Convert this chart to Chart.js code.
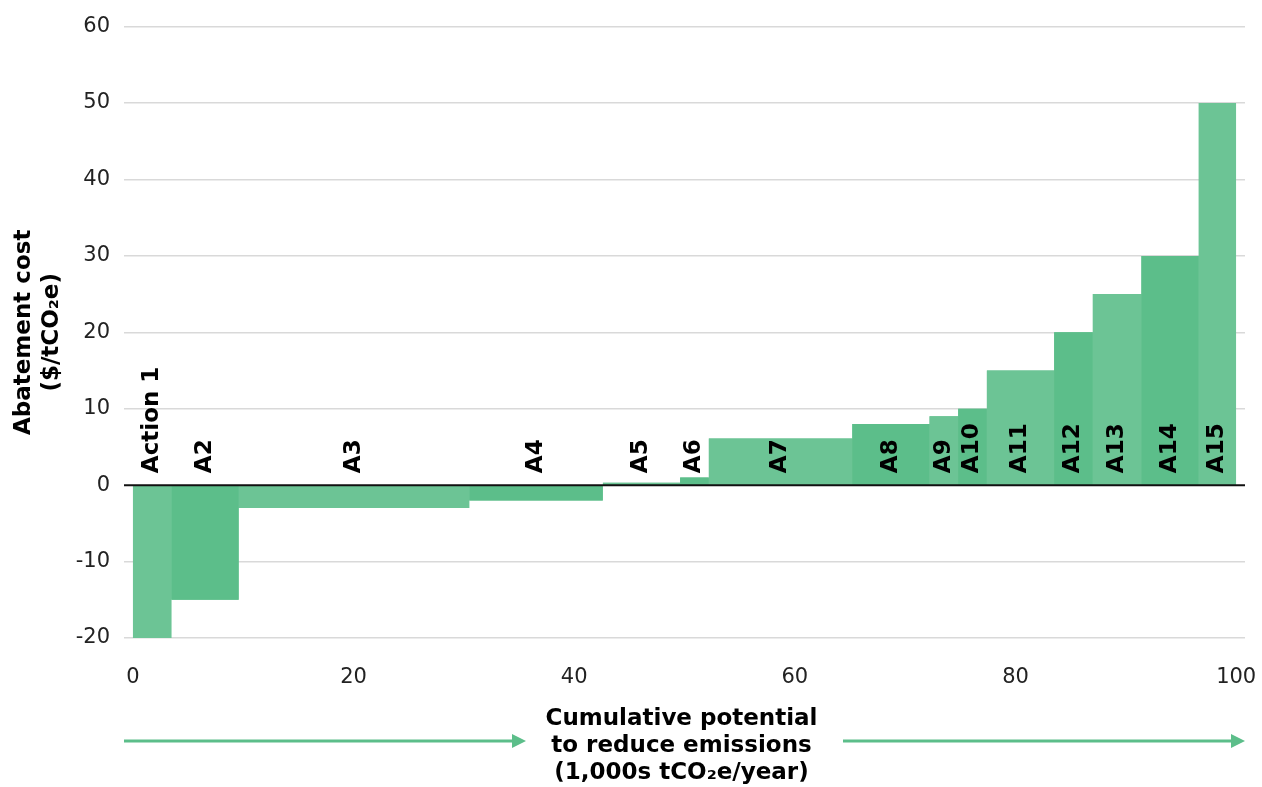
<!DOCTYPE html>
<html>
<head>
<meta charset="utf-8">
<script src="https://cdn.jsdelivr.net/npm/chart.js@4.4.1/dist/chart.umd.min.js"></script>
<style>
    html, body { margin: 0; padding: 0; background: #ffffff; }
    #wrap { width: 1262px; height: 787px; }
</style>
</head>
<body>
<div id="wrap"><canvas id="macc"></canvas></div>
<script>
const actions = ['Action 1', 'A2', 'A3', 'A4', 'A5', 'A6', 'A7', 'A8', 'A9', 'A10', 'A11', 'A12', 'A13', 'A14', 'A15'];
// reduction potential of each action (1,000s tCO2e/year) -> bar widths
const potentials = [3.5, 6.1, 20.9, 12.1, 7.0, 2.6, 13.0, 7.0, 2.6, 2.6, 6.1, 3.5, 4.4, 5.2, 3.4];
// abatement cost ($/tCO2e) -> bar heights
const costs = [-20, -15, -3, -2, 0.3, 1, 6.1, 8, 9, 10, 15, 20, 25, 30, 50];
const xTicks = [0, 20, 40, 60, 80, 100];

const LIGHT = '#6cc495';
const DARK = '#5cbe8a';
const FONT = '"DejaVu Sans", sans-serif';

// each action becomes a flat line from its start to its end, filled down to zero
let runningTotal = 0;
const steps = [];
const datasets = actions.map((name, i) => {
    const start = runningTotal;
    runningTotal += potentials[i];
    const pts = [{ x: start, y: costs[i] }, { x: runningTotal, y: costs[i] }];
    steps.push(...pts);
    return {
        label: name,
        data: pts,
        fill: 'origin',
        backgroundColor: i % 2 === 0 ? LIGHT : DARK,
        borderColor: 'rgba(0,0,0,0)',
        borderWidth: 0,
        pointRadius: 0,
        tension: 0,
        order: 0
    };
});

// one continuous staircase underneath, so the bar edges don't leave hairline gaps
const underlay = {
    label: '',
    data: steps,
    fill: 'origin',
    backgroundColor: LIGHT,
    borderColor: 'rgba(0,0,0,0)',
    borderWidth: 0,
    pointRadius: 0,
    tension: 0,
    order: 1
};

const drawLabels = {
    id: 'drawLabels',
    afterDatasetsDraw(chart) {
        const { ctx, chartArea, scales: { x, y } } = chart;
        const zeroY = y.getPixelForValue(0);

        // zero line sits above the bars
        ctx.save();
        ctx.strokeStyle = '#111';
        ctx.lineWidth = 2;
        ctx.beginPath();
        ctx.moveTo(chartArea.left, zeroY);
        ctx.lineTo(chartArea.right, zeroY);
        ctx.stroke();

        // vertical action names just above zero
        ctx.fillStyle = '#000';
        ctx.font = 'bold 23px ' + FONT;
        ctx.textAlign = 'left';
        ctx.textBaseline = 'middle';
        datasets.forEach(ds => {
            const mid = (ds.data[0].x + ds.data[1].x) / 2;
            ctx.save();
            ctx.translate(x.getPixelForValue(mid), zeroY - 12);
            ctx.rotate(-Math.PI / 2);
            ctx.fillText(ds.label, 0, 0);
            ctx.restore();
        });
        ctx.restore();
    },
    afterDraw(chart) {
        const { ctx, chartArea } = chart;
        const midX = (chartArea.left + chartArea.right) / 2 - 3;
        const midY = (chartArea.top + chartArea.bottom) / 2;

        ctx.save();
        ctx.fillStyle = '#000';
        ctx.font = 'bold 23px ' + FONT;
        ctx.textAlign = 'center';
        ctx.textBaseline = 'middle';

        // y axis title
        ctx.save();
        ctx.translate(24, midY);
        ctx.rotate(-Math.PI / 2);
        ctx.fillText('Abatement cost', 0, 0);
        ctx.fillText('($/tCO₂e)', 0, 28);
        ctx.restore();

        // x axis title
        ctx.fillText('Cumulative potential', midX, 719);
        ctx.fillText('to reduce emissions', midX, 746);
        ctx.fillText('(1,000s tCO₂e/year)', midX, 773);

        // arrows either side of the x title
        const arrow = (x0, x1, yy) => {
            ctx.strokeStyle = DARK;
            ctx.fillStyle = DARK;
            ctx.lineWidth = 3;
            ctx.beginPath();
            ctx.moveTo(x0, yy);
            ctx.lineTo(x1 - 12, yy);
            ctx.stroke();
            ctx.beginPath();
            ctx.moveTo(x1, yy);
            ctx.lineTo(x1 - 14, yy - 7);
            ctx.lineTo(x1 - 14, yy + 7);
            ctx.closePath();
            ctx.fill();
        };
        arrow(chartArea.left, 526, 741);
        arrow(843, chartArea.right, 741);
        ctx.restore();
    }
};

new Chart(document.getElementById('macc'), {
    type: 'line',
    data: { datasets: [...datasets, underlay] },
    options: {
        responsive: true,
        maintainAspectRatio: false,
        animation: false,
        layout: { padding: { top: 26, right: 17, bottom: 0, left: 0 } },
        plugins: {
            legend: { display: false },
            tooltip: { enabled: false }
        },
        scales: {
            x: {
                type: 'linear',
                min: -0.8,
                max: 100.8,
                afterBuildTicks: scale => {
                    scale.ticks = xTicks.map(v => ({ value: v }));
                },
                afterFit: scale => {
                    scale.height = 149;
                    scale.paddingLeft = 0;
                    scale.paddingRight = 0;
                },
                grid: { display: false },
                border: { display: false },
                ticks: {
                    padding: 19,
                    color: '#222',
                    font: { family: FONT, size: 21 }
                }
            },
            y: {
                min: -20,
                max: 60,
                afterFit: scale => { scale.width = 124; },
                grid: {
                    drawTicks: false,
                    lineWidth: 1.5,
                    color: ctx => ctx.tick && ctx.tick.value === 0 ? 'rgba(0,0,0,0)' : '#d9d9d9'
                },
                border: { display: false },
                ticks: {
                    stepSize: 10,
                    padding: 14,
                    color: '#222',
                    font: { family: FONT, size: 21 }
                }
            }
        }
    },
    plugins: [drawLabels]
});
</script>
</body>
</html>
